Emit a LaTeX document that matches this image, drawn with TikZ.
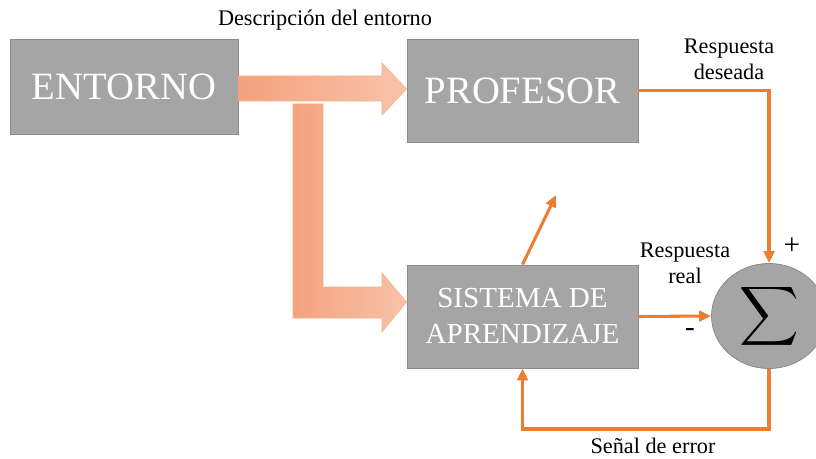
\documentclass[tikz,border=0pt]{standalone}
\usepackage{fontspec}
\setmainfont{Liberation Serif}
\usetikzlibrary{shapes.geometric,arrows.meta}
\definecolor{boxgray}{HTML}{A5A5A5}
\definecolor{boxline}{HTML}{8C8C8C}
\definecolor{lineorange}{HTML}{ED7D31}
\definecolor{arrowdark}{HTML}{F4A27E}
\definecolor{arrowlight}{HTML}{F8C3AA}
\definecolor{arrowedge}{HTML}{F4B183}

\begin{document}
\begin{tikzpicture}[x=0.75pt,y=-0.75pt,semithick,
  >={Triangle[length=9pt,width=8pt]},
  block/.style={draw=boxline,fill=boxgray,text=white,inner sep=0pt,align=center},
  flow/.style={lineorange,line width=2.3pt,->},
  bigarrow/.style={draw=arrowedge,thin,left color=arrowdark,right color=arrowlight},
  lbl/.style={font=\fontsize{16.7}{19.5}\selectfont,align=center,inner sep=0pt}]
  \useasboundingbox (0,0) rectangle (816,459);
  \clip (0,0) rectangle (816,459);

  \node[block,minimum width=171pt,minimum height=71.25pt,
    font=\fontsize{29}{33}\selectfont] (entorno) at (124,86.5) {ENTORNO};
  \node[block,minimum width=173.25pt,minimum height=77.25pt,
    font=\fontsize{29}{33}\selectfont] (prof) at (522.5,90.5) {PROFESOR};
  \node[block,minimum width=173.25pt,minimum height=77.25pt,
    font=\fontsize{21.8}{27}\selectfont] (sis) at (522.5,316.5) {SISTEMA DE\\APRENDIZAJE};
  \node[ellipse,draw=boxline,fill=boxgray,minimum width=86.25pt,minimum height=78.75pt,
    inner sep=0pt] (sum) at (769,316) {\raisebox{4pt}{\scalebox{3.1}{$\displaystyle\sum$}}};

  % big arrows from the environment
  \path[bigarrow] (entorno.east |- 0,76) -- (382,76) -- (382,63) -- (prof.west |- 0,89)
    -- (382,115) -- (382,101) -- (entorno.east |- 0,101) -- cycle;
  \path[bigarrow] (293,104) -- (323,104) -- (323,287) -- (382,287) -- (382,273)
    -- (sis.west |- 0,302) -- (382,332) -- (382,318) -- (293,318) -- cycle;

  \coordinate (fb) at (522.5,429);
  \coordinate (out) at (556,195);

  \draw[flow] (prof.east) -| (sum.north);
  \draw[flow] (sis.east) -- (sum.west);
  \draw[flow] (sum.south) |- (fb) -- (sis.south);
  \draw[flow] (sis.north) -- (out);

  \node[lbl] (desc) at (325,20) {Descripción del entorno};
  \node[lbl] (deseada) at (729,59) {Respuesta\\deseada};
  \node[lbl] (real) at (685,263) {Respuesta\\real};
  \node[lbl,font=\fontsize{22}{22}\selectfont] (minus) at (690,332) {-};
  \node[lbl,font=\fontsize{22}{22}\selectfont] (plus) at (792,246) {+};
  \node[lbl] (error) at (653,446) {Señal de error};
\end{tikzpicture}
\end{document}
